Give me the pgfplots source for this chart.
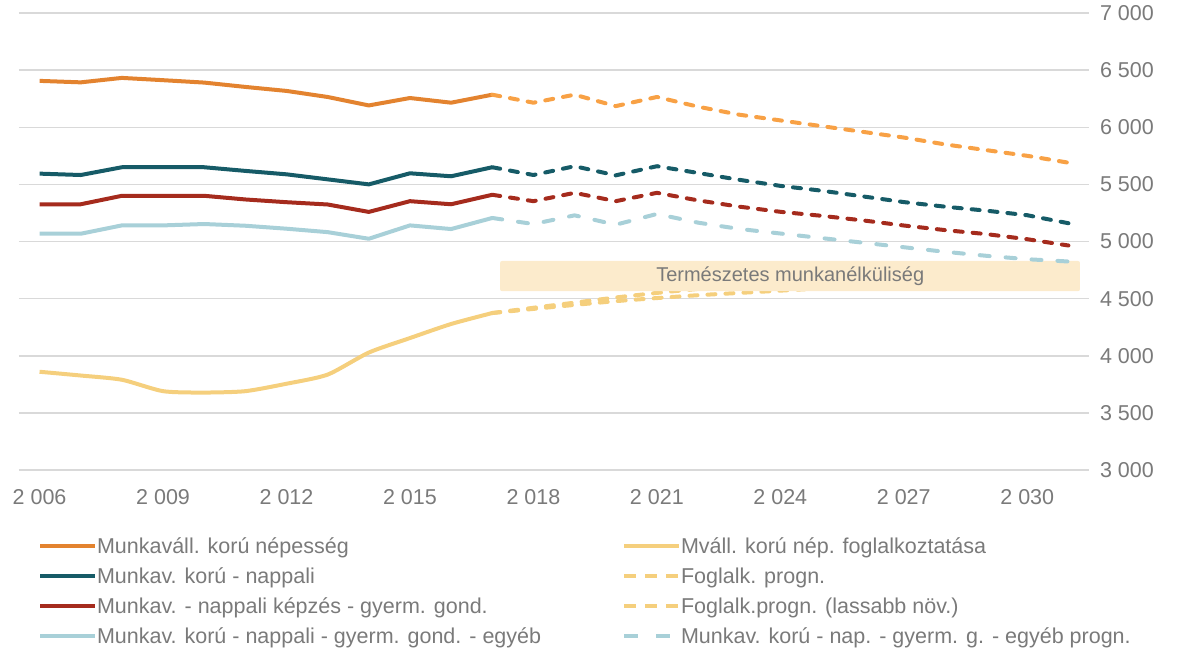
\documentclass[border=0pt]{standalone}
\usepackage{pgfplots}
\pgfplotsset{compat=1.18}
\usepackage{fontspec}
\setmainfont{Liberation Sans}
\definecolor{cOrange}{HTML}{E3832F}
\definecolor{cOrangeF}{HTML}{F8A145}
\definecolor{cTeal}{HTML}{165B67}
\definecolor{cRed}{HTML}{A52B1D}
\definecolor{cLBlue}{HTML}{A8D0D8}
\definecolor{cYellow}{HTML}{F5CF7D}
\definecolor{cGrid}{HTML}{D9D9D9}
\definecolor{cText}{HTML}{7A7A7A}
\definecolor{cBand}{HTML}{FCEBCC}
\begin{document}
\begin{tikzpicture}
\path[use as bounding box] (-9.5pt,-92pt) rectangle (583.5pt,235pt);
\begin{axis}[
  at={(0pt,0pt)}, anchor=south west,
  scale only axis, width=535pt, height=228.5pt,
  xmin=2005.5, xmax=2031.5, ymin=3000, ymax=7000,
  ytick={3000,3500,...,7000}, xtick={2006,2009,...,2030},
  ymajorgrids, major grid style={cGrid, line width=0.75pt},
  axis line style={draw=none}, major tick length=0pt,
  yticklabel pos=right,
  /pgf/number format/1000 sep={\ },
  /pgf/number format/assume math mode=true,
  tick label style={font=\fontsize{10.75}{13}\selectfont, text=cText},
  yticklabel style={anchor=west, xshift=2pt},
  xticklabel style={yshift=-6pt},
  no markers,
  every axis plot/.append style={line join=round},
  legend columns=2,
  legend style={at={(0,0)}, anchor=north west, xshift=9.5pt, yshift=-33.85pt,
    draw=none, fill=none, inner sep=0pt, outer sep=0pt,
    font=\fontsize{10.75}{13}\selectfont, text=cText,
    row sep=4.5pt, column sep=0pt,
    nodes={inner sep=0pt, text height=8pt, text depth=2.5pt},
    cells={anchor=base west},
    /tikz/every odd column/.append style={column sep=0pt}},
  legend image code/.code={\draw[#1] (0pt,3.8pt) -- (27.5pt,3.8pt);},
]
% --- employment (yellow)
\addplot[cYellow, line width=2pt, smooth, tension=0.4, forget plot] table {
x y
2006 3860
2007 3827
2008 3790
2009 3690
2010 3678
2011 3690
2012 3755
2013 3835
2014 4028
2015 4155
2016 4278
2017 4374
};
\addplot[cYellow, line width=2pt, smooth, tension=0.4, line cap=round, dash pattern=on 4pt off 5pt, forget plot] table {
x y
2017 4374
2018 4420
2019 4465
2020 4510
2021 4550
2022 4585
2023 4615
2024 4645
2025 4670
2026 4695
2027 4720
2028 4740
2029 4760
2030 4780
2031 4800
};
\addplot[cYellow, line width=2pt, smooth, tension=0.4, line cap=round, dash pattern=on 4pt off 5pt, forget plot] table {
x y
2017 4374
2018 4410
2019 4445
2020 4478
2021 4505
2022 4530
2023 4550
2024 4570
2025 4590
2026 4605
2027 4620
2028 4635
2029 4650
2030 4665
2031 4680
};
% --- band
\fill[cBand, rounded corners=1pt] (axis cs:2017.19,4565) rectangle (axis cs:2031.28,4830);
\node[text=cText, font=\fontsize{10}{12}\selectfont] at (axis cs:2024.24,4697) {Természetes munkanélküliség};
% --- orange
\addplot[cOrange, line width=2pt, forget plot] table {
x y
2006 6406
2007 6393
2008 6432
2009 6412
2010 6391
2011 6353
2012 6318
2013 6265
2014 6191
2015 6256
2016 6215
2017 6285
};
\addplot[cOrangeF, line width=2pt, line cap=round, dash pattern=on 4pt off 5pt, forget plot] table {
x y
2017 6285
2018 6215
2019 6285
2020 6185
2021 6265
2022 6180
2023 6110
2024 6060
2025 6010
2026 5960
2027 5910
2028 5850
2029 5800
2030 5750
2031 5690
};
% --- teal
\addplot[cTeal, line width=2pt, forget plot] table {
x y
2006 5594
2007 5582
2008 5650
2009 5650
2010 5650
2011 5618
2012 5588
2013 5544
2014 5500
2015 5597
2016 5571
2017 5650
};
\addplot[cTeal, line width=2pt, line cap=round, dash pattern=on 4pt off 5pt, forget plot] table {
x y
2017 5650
2018 5582
2019 5659
2020 5579
2021 5659
2022 5600
2023 5540
2024 5487
2025 5445
2026 5395
2027 5345
2028 5305
2029 5270
2030 5230
2031 5160
};
% --- red
\addplot[cRed, line width=2pt, forget plot] table {
x y
2006 5326
2007 5326
2008 5400
2009 5400
2010 5400
2011 5368
2012 5344
2013 5324
2014 5259
2015 5353
2016 5326
2017 5409
};
\addplot[cRed, line width=2pt, line cap=round, dash pattern=on 4pt off 5pt, forget plot] table {
x y
2017 5409
2018 5353
2019 5426
2020 5353
2021 5426
2022 5360
2023 5305
2024 5260
2025 5225
2026 5185
2027 5140
2028 5100
2029 5065
2030 5020
2031 4965
};
% --- light blue
\addplot[cLBlue, line width=2pt, forget plot] table {
x y
2006 5068
2007 5068
2008 5141
2009 5141
2010 5153
2011 5138
2012 5112
2013 5082
2014 5024
2015 5141
2016 5109
2017 5206
};
\addplot[cLBlue, line width=2pt, line cap=round, dash pattern=on 5pt off 8pt, forget plot] table {
x y
2017 5206
2018 5153
2019 5229
2020 5147
2021 5241
2022 5165
2023 5110
2024 5070
2025 5030
2026 4990
2027 4950
2028 4910
2029 4875
2030 4845
2031 4825
};
% --- legend
\addlegendimage{cOrange, line width=2pt}
\addlegendentry{\makebox[262.5pt][l]{Munkaváll. korú népesség}}
\addlegendimage{cYellow, line width=2pt}
\addlegendentry{Mváll. korú nép. foglalkoztatása}
\addlegendimage{cTeal, line width=2pt}
\addlegendentry{\makebox[262.5pt][l]{Munkav. korú - nappali}}
\addlegendimage{cYellow, line width=2pt, dash pattern=on 6pt off 4.5pt}
\addlegendentry{Foglalk. progn.}
\addlegendimage{cRed, line width=2pt}
\addlegendentry{\makebox[262.5pt][l]{Munkav. - nappali képzés - gyerm. gond.}}
\addlegendimage{cYellow, line width=2pt, dash pattern=on 6pt off 4.5pt}
\addlegendentry{Foglalk.progn. (lassabb növ.)}
\addlegendimage{cLBlue, line width=2pt}
\addlegendentry{\makebox[262.5pt][l]{Munkav. korú - nappali - gyerm. gond. - egyéb}}
\addlegendimage{cLBlue, line width=2pt, dash pattern=on 7pt off 9pt}
\addlegendentry{Munkav. korú - nap. - gyerm. g. - egyéb progn.}
\end{axis}
\end{tikzpicture}
\end{document}
